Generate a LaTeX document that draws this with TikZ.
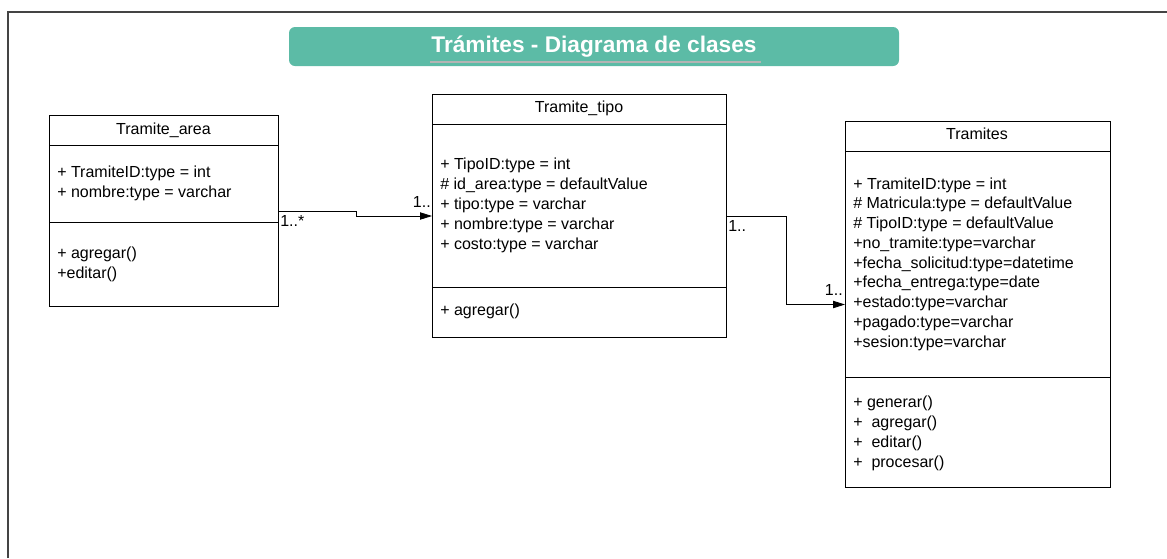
\documentclass[tikz,border=0pt]{standalone}
\usepackage{fontspec}
\setmainfont{Liberation Sans}
\usetikzlibrary{arrows.meta}
\definecolor{titlegreen}{HTML}{5CBBA6}
\definecolor{framegray}{HTML}{444444}
\definecolor{linegray}{HTML}{B4B4B4}
\tikzset{
  classbox/.style={draw, line width=0.75pt, anchor=north west, inner sep=0pt},
  member/.style={anchor=base west, inner sep=0pt, font=\fontsize{12}{15}\selectfont},
  classname/.style={anchor=base, inner sep=0pt, font=\fontsize{12}{15}\selectfont},
  mult/.style={anchor=base west, inner sep=0pt, font=\fontsize{12}{15}\selectfont},
  assoc/.style={-{Triangle[length=9pt,width=5.5pt]}, line width=0.6pt},
}
\begin{document}
\begin{tikzpicture}[x=0.75pt, y=-0.75pt]
  \useasboundingbox (0,0) rectangle (1167,558);
  \draw[framegray, line width=1.5pt] (8,558) -- (8,12) -- (1167,12);

  % title
  \node[fill=titlegreen, rounded corners=4.5pt, minimum width=457.5pt,
    minimum height=29.25pt, inner sep=0pt] (titlebar) at (594,46.5) {};
  \node[text=white, font=\fontsize{17}{20}\selectfont\bfseries, anchor=base,
    inner sep=0pt] (title) at (594,52) {Trámites - Diagrama de clases};
  \draw[linegray, line width=1.5pt] (430,61.5) -- (761,61.5);

  % classes
  \node[classbox, minimum width=171.75pt, minimum height=143.25pt] (area) at (49,115) {};
  \node[classbox, minimum width=220.5pt, minimum height=182.25pt] (tipo) at (432,94) {};
  \node[classbox, minimum width=198.75pt, minimum height=274.5pt] (tramites) at (845,121) {};
  \begin{scope}[line width=0.75pt]
    \draw (49,145) -- (278,145);
    \draw (49,222) -- (278,222);
    \draw (432,124) -- (726,124);
    \draw (432,287) -- (726,287);
    \draw (845,151) -- (1110,151);
    \draw (845,377) -- (1110,377);
  \end{scope}

  \node[classname] (areaname) at (163.5,134) {Tramite\_area};
  \node[classname] (tiponame) at (579,112) {Tramite\_tipo};
  \node[classname] (tramitesname) at (977,139) {Tramites};

  \foreach \m [count=\i] in {+ TramiteID:type = int, + nombre:type = varchar}
    \node[member] (areaattr\i) at (57,{157+20*\i}) {\m};
  \foreach \m [count=\i] in {+ agregar(), +editar()}
    \node[member] (areaop\i) at (57,{238+20*\i}) {\m};

  \foreach \m [count=\i] in {+ TipoID:type = int, \# id\_area:type = defaultValue,
      + tipo:type = varchar, + nombre:type = varchar, + costo:type = varchar}
    \node[member] (tipoattr\i) at (440,{149+20*\i}) {\m};
  \node[member] (tipoop1) at (440,315.5) {+ agregar()};

  \foreach \m [count=\i] in {+ TramiteID:type = int, \# Matricula:type = defaultValue,
      \# TipoID:type = defaultValue, +no\_tramite:type=varchar,
      +fecha\_solicitud:type=datetime, +fecha\_entrega:type=date,
      +estado:type=varchar, +pagado:type=varchar, +sesion:type=varchar}
    \node[member] (tramitesattr\i) at (853,{169.25+19.75*\i}) {\m};
  \foreach \m [count=\i] in {+ generar(), +~ agregar(), +~ editar(), +~ procesar()}
    \node[member] (tramitesop\i) at (853,{388+19.75*\i}) {\m};

  % associations
  \draw[assoc] (area.east) -- ++(77,0) |- (tipo.west);
  \draw[assoc] (tipo.east) -- ++(59,0) |- (tramites.west);
  \node[mult] (areamult) at (280,226) {1..*};
  \node[mult, anchor=base east] (tipomultin) at (431,207) {1..};
  \node[mult] (tipomultout) at (728,231) {1..};
  \node[mult, anchor=base east] (tramitesmult) at (843,295) {1..};
\end{tikzpicture}
\end{document}
